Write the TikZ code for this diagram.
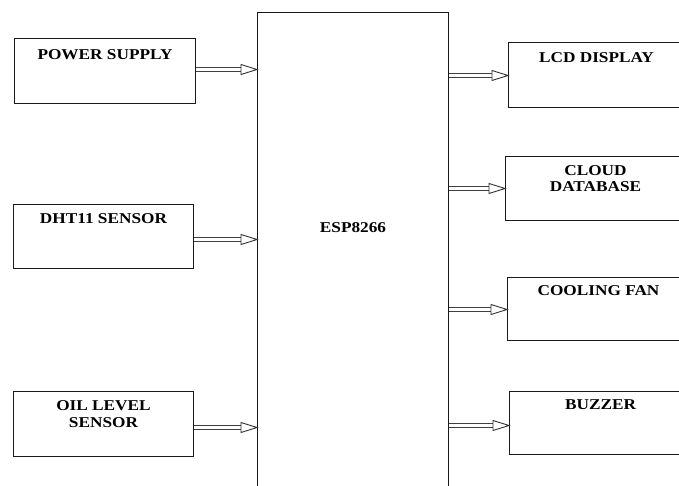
\documentclass[tikz,border=0pt]{standalone}
\usepackage{fontspec}
\setmainfont{Liberation Serif}[FakeStretch=1.15]
\usetikzlibrary{calc}
\tikzset{
  blk/.style={draw=black!90, line width=1pt, inner sep=0pt, anchor=north west,
    font=\fontsize{15}{16.5}\selectfont\bfseries},
  shaft/.style={draw=black!75, line width=0.8pt, double=white, double distance=2.8pt},
  head/.style={draw=black!80, line width=0.9pt, fill=white, line join=miter},
}
\newcommand\bx[4]{\parbox[c][#2pt][t]{#1pt}{\vspace*{#3pt}\centering #4\par}}
\newcommand\conn[2]{%
  \draw[shaft] (#1) -- ($(#2)+(-15,0)$);
  \draw[head] ($(#2)+(-16,-5)$) -- (#2) -- ($(#2)+(-16,5)$) -- cycle;}
\begin{document}
\begin{tikzpicture}[x=1pt,y=-1pt]
\fill[white] (0,0) rectangle (679,486);
\clip (0,0) rectangle (679,486);
% inputs
\node[blk] (ps)  at (14,38)  {\bx{181}{65}{11}{POWER SUPPLY}};
\node[blk] (dht) at (13,204) {\bx{180}{64}{9.5}{DHT11 SENSOR}};
\node[blk] (oil) at (13,391) {\bx{180}{65}{9.5}{OIL LEVEL\\SENSOR}};
% controller
\node[blk] (esp) at (257,12) {\bx{191}{495}{210}{ESP8266}};
% outputs
\node[blk] (lcd)   at (508,42)  {\bx{176}{65}{10}{LCD DISPLAY}};
\node[blk] (cloud) at (505,156) {\bx{180}{64}{9}{CLOUD\\DATABASE}};
\node[blk] (fan)   at (507,277) {\bx{182}{63}{8.5}{COOLING FAN}};
\node[blk] (buz)   at (509,391) {\bx{182}{63}{8.5}{BUZZER}};
% connectors
\path ($(ps.east)+(0,-1.5)$) coordinate (s1); \path (s1 -| esp.west) coordinate (t1);
\path ($(dht.east)+(0,3)$)   coordinate (s2); \path (s2 -| esp.west) coordinate (t2);
\path ($(oil.east)+(0,3.5)$) coordinate (s3); \path (s3 -| esp.west) coordinate (t3);
\path ($(lcd.west)+(0,0.5)$)   coordinate (t4); \path (t4 -| esp.east) coordinate (s4);
\path ($(cloud.west)+(0,0)$)   coordinate (t5); \path (t5 -| esp.east) coordinate (s5);
\path ($(fan.west)+(0,0.5)$)   coordinate (t6); \path (t6 -| esp.east) coordinate (s6);
\path ($(buz.west)+(0,2.5)$)   coordinate (t7); \path (t7 -| esp.east) coordinate (s7);
\conn{s1}{t1}
\conn{s2}{t2}
\conn{s3}{t3}
\conn{s4}{t4}
\conn{s5}{t5}
\conn{s6}{t6}
\conn{s7}{t7}
\end{tikzpicture}
\end{document}
